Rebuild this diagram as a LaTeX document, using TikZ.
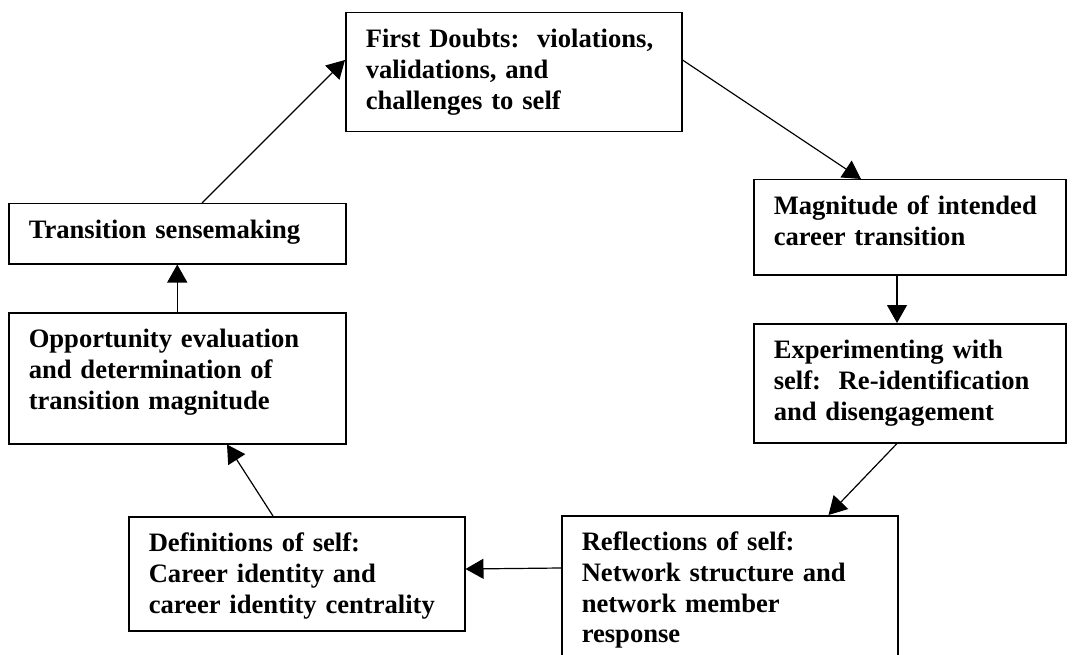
\documentclass[tikz,border=0pt]{standalone}
\usepackage{fontspec}
\setmainfont{Liberation Serif}
\usetikzlibrary{arrows.meta,calc}
\begin{document}
\frenchspacing
\begin{tikzpicture}[x=1pt,y=-1pt,
  box/.style={draw, line width=1.5pt, inner xsep=20pt, inner ysep=0pt,
    anchor=north west, align=left,
    font=\fontsize{26.6pt}{30.7pt}\selectfont\bfseries, text height=35pt},
  conn/.style={line width=1.2pt, -{Triangle[length=18pt,width=20pt]}}]
\useasboundingbox (0,0) rectangle (1081,655);
\clip (0,0) rectangle (1081,655);
\node[box,text width=296pt,text depth=84pt] (b1) at (345,12)
  {First Doubts:\ \ violations,\\validations, and\\challenges to self};
\node[box,text width=272pt,text depth=60pt] (b2) at (753,179)
  {Magnitude of intended\\career transition};
\node[box,text width=272pt,text depth=84pt] (b3) at (753,323)
  {Experimenting with\\self:\ \ Re-identification\\and disengagement};
\node[box,text width=296pt,text depth=200pt] (b4) at (561,515)
  {Reflections of self:\\Network structure and\\network member\\response};
\node[box,text width=296pt,text depth=79pt] (b5) at (128,516)
  {Definitions of self:\\Career identity and\\career identity centrality};
\node[box,text width=297pt,text depth=96pt] (b6) at (8,312)
  {Opportunity evaluation\\and determination of\\transition magnitude};
\node[box,text width=297pt,text depth=25pt] (b7) at (8,203)
  {Transition sensemaking};
\draw[conn] ($(b7.north west)+(194,0)$) -- ($(b1.north west)+(0,48)$);
\draw[conn] ($(b1.north east)+(0,48)$) -- ($(b2.north west)+(108,0)$);
\draw[conn] ($(b2.south west)+(144,0)$) -- ($(b3.north west)+(144,0)$);
\draw[conn] ($(b3.south west)+(144,0)$) -- ($(b4.north east)+(-70,0)$);
\draw[conn] ($(b4.north west)+(0,53)$) -- ($(b5.north east)+(0,53)$);
\draw[conn] ($(b5.north west)+(145,0)$) -- ($(b6.south west)+(219,0)$);
\draw[conn] (b6.north) -- (b7.south);
\end{tikzpicture}
\end{document}
